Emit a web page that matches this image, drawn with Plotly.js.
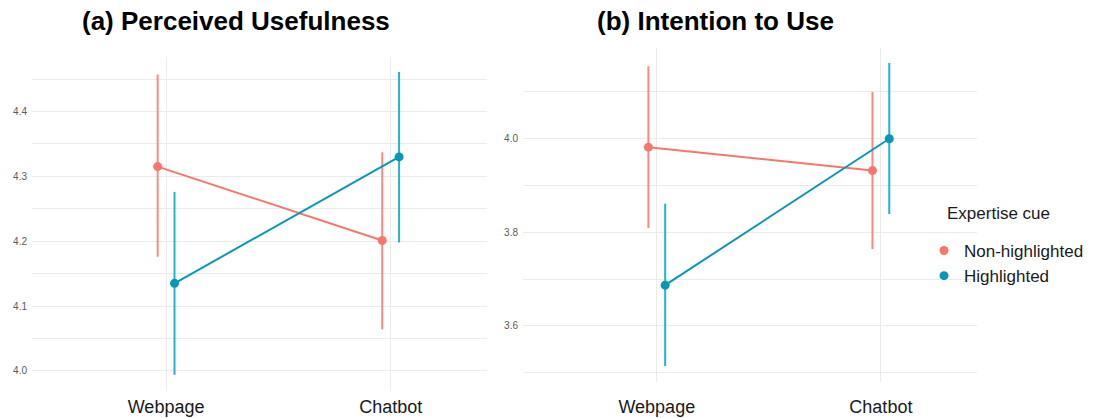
<!DOCTYPE html>
<html>
<head>
<meta charset="utf-8">
<script src="https://cdn.plot.ly/plotly-3.0.1.min.js"></script>
<style>html,body{margin:0;padding:0;background:#fff;}#chart{width:1100px;height:418px;}</style>
</head>
<body>
<div id="chart"></div>
<script>
// ---- data ----
const platforms = ["Webpage", "Chatbot"];
const groups = ["Non-highlighted", "Highlighted"];

// (a) Perceived Usefulness
const puMeanNon = [4.315, 4.201];
const puLowNon  = [4.176, 4.064];
const puHighNon = [4.457, 4.337];
const puMeanHi  = [4.135, 4.330];
const puLowHi   = [3.994, 4.198];
const puHighHi  = [4.276, 4.461];

// (b) Intention to Use
const iuMeanNon = [3.982, 3.932];
const iuLowNon  = [3.809, 3.764];
const iuHighNon = [4.155, 4.100];
const iuMeanHi  = [3.687, 4.000];
const iuLowHi   = [3.514, 3.839];
const iuHighHi  = [3.861, 4.162];

const panelTitles = ["(a) Perceived Usefulness", "(b) Intention to Use"];
const legendTitle = "Expertise cue";

// ---- styles ----
const colNon = "#F8766D", errNon = "#F98A82";
const colHi  = "#0797B7", errHi  = "#22B3D1";

function series(name, mean, lo, hi, xa, ya, col, ecol, group, showleg) {
  const line = {
    type: "scatter", mode: "lines", name: name,
    x: platforms, y: mean, xaxis: xa, yaxis: ya,
    offsetgroup: group, legendgroup: group, showlegend: false,
    line: {color: col, width: 2}, hoverinfo: "skip"
  };
  const pts = {
    type: "scatter", mode: "markers", name: name,
    x: platforms, y: mean, xaxis: xa, yaxis: ya,
    offsetgroup: group, legendgroup: group, showlegend: showleg,
    marker: {color: col, size: 9},
    error_y: {type: "data", symmetric: false,
      array: hi.map((v, i) => v - mean[i]),
      arrayminus: mean.map((v, i) => v - lo[i]),
      color: ecol, thickness: 2, width: 0}
  };
  return [line, pts];
}

const traces = [].concat(
  series(groups[0], puMeanNon, puLowNon, puHighNon, "x", "y", colNon, errNon, "non", false),
  series(groups[1], puMeanHi, puLowHi, puHighHi, "x", "y", colHi, errHi, "hi", false),
  series(groups[0], iuMeanNon, iuLowNon, iuHighNon, "x2", "y2", colNon, errNon, "non", true),
  series(groups[1], iuMeanHi, iuLowHi, iuHighHi, "x2", "y2", colHi, errHi, "hi", true)
);

const grid = "#EBEBEB";
const font = "Liberation Sans, Arial, sans-serif";
function xax(domain, anchor, standoff) {
  return {domain: domain, anchor: anchor, type: "category", range: [-0.597, 1.429],
    showgrid: true, gridcolor: grid, gridwidth: 1, zeroline: false, showline: false,
    ticks: "", ticklabelstandoff: standoff,
    tickfont: {family: font, size: 18, color: "#1A1A1A"}};
}
function yax(domain, anchor, range, dtick, minor0) {
  return {domain: domain, anchor: anchor, range: range, dtick: dtick, tick0: 0,
    showgrid: true, gridcolor: grid, gridwidth: 1, zeroline: false, showline: false,
    ticks: "", ticklabelstandoff: 4, tickformat: ".1f",
    tickfont: {family: font, size: 10, color: "#5A5A5A"},
    minor: {dtick: dtick, tick0: minor0, showgrid: true, gridcolor: grid, gridwidth: 1, ticks: ""}};
}

const layout = {
  width: 1100, height: 418,
  margin: {l: 0, r: 0, t: 0, b: 0},
  paper_bgcolor: "#fff", plot_bgcolor: "#fff",
  scattermode: "group", scattergap: 0.85,
  font: {family: font},
  xaxis: xax([32/1100, 487/1100], "y", 3),
  yaxis: yax([27/418, 361/418], "x", [3.969, 4.484], 0.1, 0.05),
  xaxis2: xax([523/1100, 977/1100], "y2", 12),
  yaxis2: yax([36/418, 370/418], "x2", [3.48, 4.194], 0.2, 0.1),
  showlegend: true,
  legend: {x: 924/1100, xanchor: "left", y: 1 - 233/418, yanchor: "top",
    font: {family: font, size: 17, color: "#1A1A1A"},
    bgcolor: "rgba(0,0,0,0)", tracegroupgap: 0, itemwidth: 30},
  annotations: [
    {text: "<b>" + panelTitles[0] + "</b>", xref: "paper", yref: "paper",
     x: 236/1100, y: 1 - 21/418, xanchor: "center", yanchor: "middle", showarrow: false,
     font: {family: font, size: 26, color: "#000"}},
    {text: "<b>" + panelTitles[1] + "</b>", xref: "paper", yref: "paper",
     x: 715/1100, y: 1 - 21/418, xanchor: "center", yanchor: "middle", showarrow: false,
     font: {family: font, size: 26, color: "#000"}},
    {text: legendTitle, xref: "paper", yref: "paper",
     x: 945/1100, y: 1 - 213/418, xanchor: "left", yanchor: "middle", showarrow: false,
     font: {family: font, size: 17, color: "#1A1A1A"}}
  ]
};

Plotly.newPlot("chart", traces, layout, {displayModeBar: false, staticPlot: true});
</script>
</body>
</html>
